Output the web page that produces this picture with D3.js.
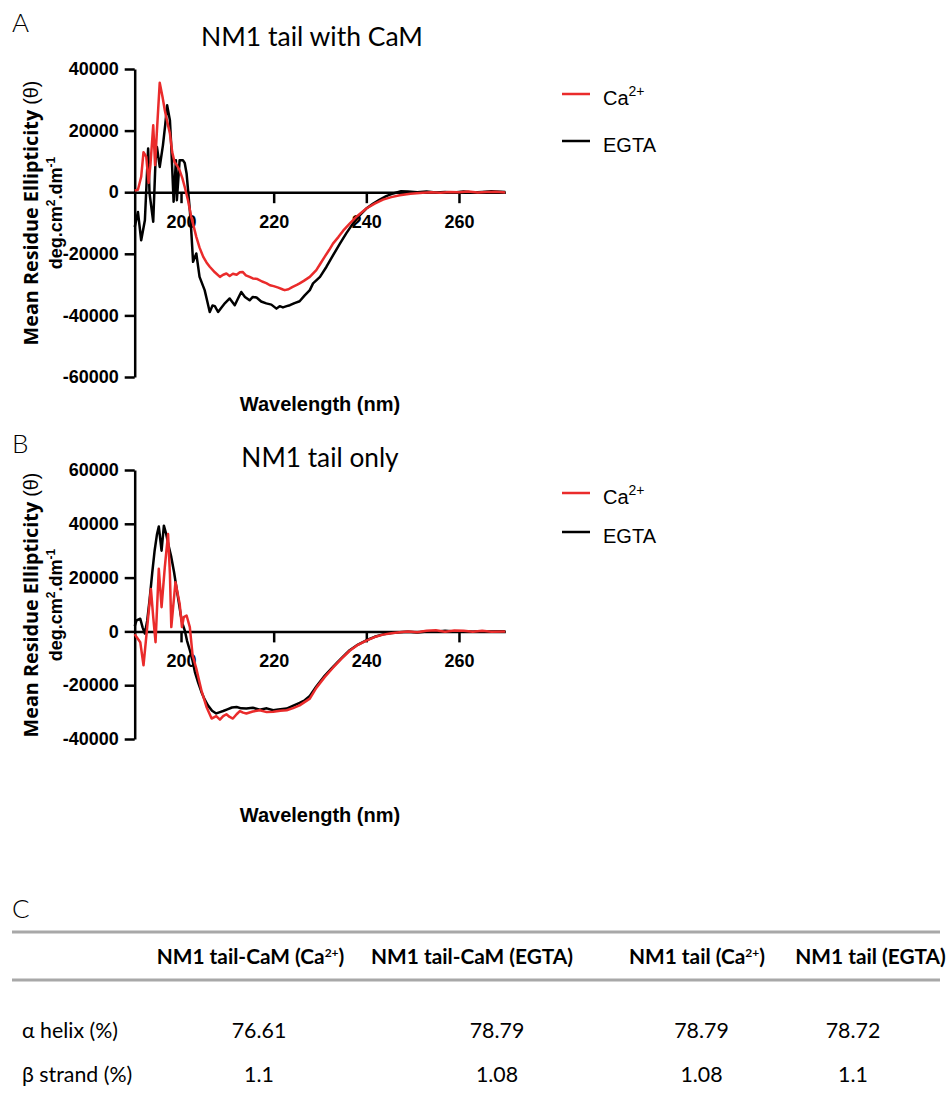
<!DOCTYPE html>
<html>
<head>
<meta charset="utf-8">
<script src="https://cdn.jsdelivr.net/npm/d3@7"></script>
<style>
  body { margin: 0; background: #fff; }
  svg { display: block; }
</style>
</head>
<body>
<script>
// ---- data ----
const xTicks = [200, 220, 240, 260];
const yTicksA = [-60000, -40000, -20000, 0, 20000, 40000];
const yTicksB = [-40000, -20000, 0, 20000, 40000, 60000];

// panel A: NM1 tail with CaM, [wavelength nm, ellipticity]
const caA = [[190,500],[190.7,800],[191.4,5000],[191.9,13000],[192.5,11500],[193.0,3000],[193.4,9000],[194.0,21700],[194.4,8800],[194.8,20000],[195.4,35500],[196.0,31000],[196.5,26600],[197.0,23000],[197.6,19100],[198.1,13000],[198.6,9800],[199.2,8500],[199.7,7100],[200.3,4500],[200.8,1700],[201.5,-2600],[202.2,-8000],[202.8,-11500],[203.3,-14500],[204.0,-18000],[204.8,-21000],[205.5,-22800],[206.2,-24200],[207.3,-26000],[208.4,-27500],[209.1,-26800],[209.8,-26400],[210.5,-27200],[211.2,-26500],[212,-26800],[212.7,-26000],[213.3,-25900],[214,-27000],[214.8,-27500],[215.5,-28000],[216.5,-28200],[217.5,-29000],[218.4,-29500],[219.2,-30200],[220,-30500],[221,-31000],[222,-31600],[222.4,-31800],[223.2,-31500],[224,-30800],[225,-30100],[225.6,-29600],[226.5,-28800],[227.8,-27500],[229.2,-25300],[230,-23400],[231,-21000],[232,-18700],[232.8,-16700],[234,-14500],[235,-12500],[236.4,-10200],[238,-7800],[240,-5300],[241.8,-3700],[243.6,-2400],[245.4,-1600],[247.2,-1000],[249.5,-500],[252.2,-200],[254,0],[256,-150],[258,100],[260,0],[262,200],[264,-100],[266,100],[268,150],[270,-100]];
const egtaA = [[190,-11300],[190.7,-6400],[191.4,-15600],[192.2,-9100],[192.9,14200],[193.2,-300],[194.0,-9600],[194.5,10400],[194.8,14700],[195.4,8200],[196.1,15300],[196.6,22000],[197.0,28200],[197.6,23400],[197.9,14700],[198.4,-3100],[198.9,10400],[199.1,-2600],[199.7,10400],[200.4,10400],[200.8,9500],[201.2,6100],[201.9,-5800],[202.2,-12300],[202.6,-22600],[203.3,-19900],[204,-27500],[205.1,-31800],[205.6,-35000],[206.2,-38900],[206.8,-36800],[207.3,-37000],[208,-38900],[208.7,-37500],[209.5,-36000],[210.5,-34500],[211.6,-36700],[212.3,-34500],[213,-32400],[213.8,-34000],[214.8,-35100],[215.5,-34000],[216.3,-34200],[217.3,-35500],[218.4,-36100],[219.5,-36500],[220.6,-37800],[221.3,-37000],[222,-37400],[222.8,-37000],[223.5,-36700],[224.5,-36000],[225.6,-35400],[226.7,-33500],[227.8,-31800],[228.5,-29600],[229.2,-28600],[230,-27500],[231.4,-24200],[232.8,-20500],[234.3,-16700],[235.7,-13300],[237.1,-10200],[238.5,-7600],[240,-5300],[241.5,-3700],[242.9,-2400],[244.3,-1300],[245.8,-400],[247.5,300],[249,200],[251,0],[253,200],[255,-100],[257,100],[259,-100],[261,200],[263,-100],[265,100],[267,300],[270,100]];

// panel B: NM1 tail only
const caB = [[190,-1000],[190.4,-2100],[191.2,-4000],[191.9,-12600],[192.7,1600],[193.5,15800],[194,5300],[194.5,-4000],[195.2,23300],[195.8,9000],[196.5,23900],[197.2,36200],[197.6,21400],[197.9,1600],[198.8,18300],[199.7,10300],[200.2,1600],[200.6,5300],[201.2,5900],[201.9,1600],[202.5,-8900],[203.3,-13800],[203.8,-17500],[204.4,-21900],[205.5,-28100],[206.6,-32400],[207.6,-31500],[208.4,-32800],[209.1,-31500],[209.8,-30800],[210.5,-31800],[211.2,-32400],[212,-30800],[212.7,-29600],[213.4,-30200],[214.1,-30500],[215.5,-29800],[217,-29300],[218.5,-30000],[219.9,-29900],[221.4,-29500],[222.8,-29300],[224.2,-28500],[225.6,-27500],[227.8,-25000],[229.2,-21000],[231,-17000],[232.8,-13500],[234.6,-10200],[236.4,-7200],[238.2,-5000],[240,-3400],[241.8,-2100],[243.6,-1200],[245.4,-700],[247.2,-300],[249,0],[251,-300],[253,200],[255,400],[257,-100],[259,300],[261,200],[263,-100],[265,200],[267,-100],[270,0]];
const egtaB = [[190,2000],[190.4,4100],[191.2,4700],[191.7,1500],[192.2,-800],[192.7,4000],[193.2,11500],[193.8,22000],[194.3,30000],[194.8,36000],[195.2,39000],[195.8,30000],[196.3,39300],[196.8,36200],[197.3,32000],[197.9,27600],[198.5,22000],[199,16400],[199.5,11000],[199.9,6500],[200.3,3000],[200.8,400],[201.3,-3500],[201.9,-7000],[202.5,-11000],[203,-15100],[203.7,-19000],[204.4,-22500],[205.1,-25300],[205.8,-27500],[206.7,-29500],[207.6,-30500],[208.4,-30000],[209.1,-29600],[210,-29000],[211,-28300],[212,-28100],[213,-28600],[214.1,-28700],[215.5,-28400],[217,-29100],[218.5,-28600],[219.9,-29300],[221,-29000],[222.8,-28700],[224,-27800],[225.6,-26600],[226.7,-25600],[227.8,-24000],[229.2,-20500],[231,-16500],[232.8,-13200],[234.6,-10000],[236.4,-7000],[238.2,-4900],[240,-3300],[241.8,-2000],[243.6,-1100],[245.4,-600],[247.2,-300],[249,-100],[251,-400],[253,0],[255,-100],[257,200],[259,0],[261,100],[263,-100],[265,100],[267,0],[270,100]];

// panel C: secondary structure table
const tableCols = ['NM1 tail-CaM (Ca', 'NM1 tail-CaM (EGTA)', 'NM1 tail (Ca', 'NM1 tail (EGTA)'];
const tableRows = ['α helix (%)', 'β strand (%)'];
const helixVals = ['76.61', '78.79', '78.79', '78.72'];
const strandVals = ['1.1', '1.08', '1.08', '1.1'];

const RED = '#ea2b2b';
const axisFont = "'Liberation Sans', Arial, sans-serif";
const labelFont = "'Open Sans', sans-serif";
const calFont = "Lato, 'Open Sans', sans-serif";

const svg = d3.select('body').append('svg')
  .attr('width', 950)
  .attr('height', 1093);

// scale text to a target width
function fitWidth(sel, w) {
  const fs = parseFloat(sel.attr('font-size'));
  const bw = sel.node().getBBox().width;
  sel.attr('font-size', fs * w / bw);
}

function drawPanel(p) {
  const x = d3.scaleLinear().domain([190, 270]).range([134.7, 505.3]);
  const y = d3.scaleLinear().domain(p.yDomain).range(p.yRange);
  const g = svg.append('g');

  const xAxis = g.append('g')
    .attr('transform', `translate(0,${y(0)})`)
    .call(d3.axisBottom(x).tickValues(xTicks).tickSize(11).tickPadding(12).tickSizeOuter(0));
  const yAxis = g.append('g')
    .attr('transform', `translate(${x(190)},0)`)
    .call(d3.axisLeft(y).tickValues(p.yTicks).tickSize(10).tickPadding(6).tickSizeOuter(0)
      .tickFormat((d) => String(d)));

  [xAxis, yAxis].forEach((a) => {
    a.selectAll('path, line').attr('stroke', '#000').attr('stroke-width', 2.5);
    a.selectAll('text')
      .attr('fill', '#000')
      .attr('font-family', axisFont)
      .attr('font-weight', 'bold')
      .attr('font-size', 18);
  });

  const line = d3.line().x((d) => x(d[0])).y((d) => y(d[1]));
  g.append('path').datum(p.egta)
    .attr('fill', 'none').attr('stroke', '#000').attr('stroke-width', 2.5)
    .attr('stroke-linejoin', 'round').attr('d', line);
  g.append('path').datum(p.ca)
    .attr('fill', 'none').attr('stroke', RED).attr('stroke-width', 2.5)
    .attr('stroke-linejoin', 'round').attr('d', line);

  // panel letter and title
  g.append('text').attr('x', 12).attr('y', p.letterY)
    .attr('font-family', calFont).attr('font-weight', 300).attr('font-size', 26)
    .text(p.letter);
  const t = g.append('text').attr('x', p.titleX).attr('y', p.titleY)
    .attr('text-anchor', 'middle')
    .attr('font-family', calFont).attr('font-size', 24)
    .text(p.title);
  fitWidth(t, p.titleW);

  // x axis title
  g.append('text').attr('x', 320).attr('y', p.xLabelY)
    .attr('text-anchor', 'middle')
    .attr('font-family', axisFont).attr('font-weight', 'bold').attr('font-size', 20)
    .text('Wavelength (nm)');

  // y axis title, two lines
  const yl = g.append('text')
    .attr('transform', `translate(38,${p.yLabelC}) rotate(-90)`)
    .attr('text-anchor', 'middle')
    .attr('font-family', labelFont).attr('font-size', 17);
  yl.append('tspan').attr('font-weight', 'bold').text('Mean Residue Ellipticity ');
  yl.append('tspan').attr('font-family', axisFont).attr('font-weight', 'normal').text('(θ)');
  fitWidth(yl, 265);

  const y2 = g.append('text')
    .attr('transform', `translate(62,${p.yLabelC}) rotate(-90)`)
    .attr('text-anchor', 'middle')
    .attr('font-family', axisFont).attr('font-weight', 'bold').attr('font-size', 18);
  y2.append('tspan').text('deg.cm');
  y2.append('tspan').attr('font-size', 12).attr('dy', -7).text('2');
  y2.append('tspan').attr('dy', 7).text('.dm');
  y2.append('tspan').attr('font-size', 12).attr('dy', -7).text('-1');

  // legend
  const leg = [
    { color: RED, y: p.legY[0], main: 'Ca', sup: '2+' },
    { color: '#000', y: p.legY[1], main: 'EGTA', sup: '' }
  ];
  leg.forEach((d) => {
    g.append('line').attr('x1', 562).attr('x2', 590).attr('y1', d.y).attr('y2', d.y)
      .attr('stroke', d.color).attr('stroke-width', 2.5);
    const lt = g.append('text').attr('x', 603).attr('y', d.y + 11)
      .attr('font-family', axisFont).attr('font-size', 20);
    lt.append('tspan').text(d.main);
    if (d.sup) lt.append('tspan').attr('font-size', 14).attr('dy', -9).text(d.sup);
  });
}

drawPanel({
  letter: 'A', letterY: 32, title: 'NM1 tail with CaM', titleX: 312, titleY: 46, titleW: 222,
  yDomain: [-60000, 40000], yRange: [377, 69], yTicks: yTicksA,
  ca: caA, egta: egtaA, xLabelY: 411, yLabelC: 213, legY: [94, 141]
});
drawPanel({
  letter: 'B', letterY: 453, title: 'NM1 tail only', titleX: 320, titleY: 467, titleW: 158,
  yDomain: [-40000, 60000], yRange: [739, 470], yTicks: yTicksB,
  ca: caB, egta: egtaB, xLabelY: 822, yLabelC: 605, legY: [493, 532]
});

// ---- table C ----
svg.append('text').attr('x', 12).attr('y', 918)
  .attr('font-family', calFont).attr('font-weight', 300).attr('font-size', 26)
  .text('C');

[932, 980].forEach((ry) => {
  svg.append('line').attr('x1', 12).attr('x2', 940).attr('y1', ry).attr('y2', ry)
    .attr('stroke', '#a8a8a8').attr('stroke-width', 3);
});

const headX = [250.5, 472, 697, 870.5];
const valX = [259, 497, 701.5, 853];

const heads = svg.append('g').selectAll('text').data(tableCols).join('text')
  .attr('x', (d, i) => headX[i]).attr('y', 964)
  .attr('text-anchor', 'middle')
  .attr('font-family', calFont).attr('font-weight', 'bold').attr('font-size', 19)
  .each(function (d) {
    const s = d3.select(this);
    s.append('tspan').text(d);
    if (d.endsWith('(Ca')) {
      s.append('tspan').attr('font-size', 12).attr('dy', -7).text('2+');
      s.append('tspan').attr('dy', 7).text(')');
    }
  });
fitWidth(d3.select(heads.nodes()[0]), 189);
heads.attr('font-size', d3.select(heads.nodes()[0]).attr('font-size'));

const rowY = [1038, 1082];
const rowLabels = svg.append('g').selectAll('text').data(tableRows).join('text')
  .attr('x', 22).attr('y', (d, i) => rowY[i])
  .attr('font-family', calFont).attr('font-size', 20)
  .text((d) => d);
fitWidth(d3.select(rowLabels.nodes()[0]), 96);
const bodySize = d3.select(rowLabels.nodes()[0]).attr('font-size');
rowLabels.attr('font-size', bodySize);

[helixVals, strandVals].forEach((vals, r) => {
  svg.append('g').selectAll('text').data(vals).join('text')
    .attr('x', (d, i) => valX[i]).attr('y', rowY[r])
    .attr('text-anchor', 'middle')
    .attr('font-family', calFont).attr('font-size', bodySize)
    .text((d) => d);
});
</script>
</body>
</html>
